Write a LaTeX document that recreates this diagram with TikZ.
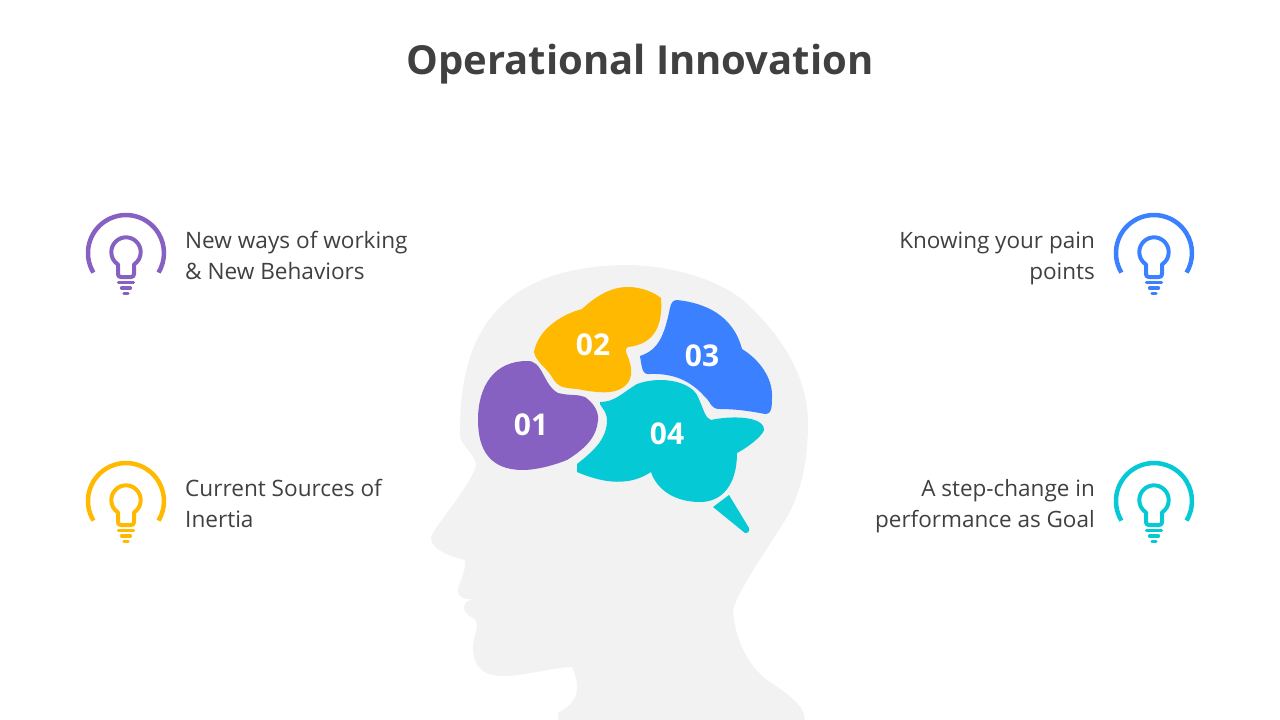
\documentclass[tikz,border=0pt]{standalone}
\usepackage{fontspec}
\setmainfont{Open Sans}
\usepackage{tikz}
\definecolor{Purple1}{HTML}{8761C1}
\definecolor{Yellow1}{HTML}{FFB900}
\definecolor{Blue1}{HTML}{3A80FF}
\definecolor{Teal1}{HTML}{06C9D6}
\definecolor{Head1}{HTML}{F2F2F2}
\definecolor{Text1}{HTML}{404040}
\tikzstyle{title} = [text=Text1, font=\fontsize{40}{48}\selectfont\bfseries]
\tikzstyle{labelleft} = [text=Text1, anchor=west, align=left, inner sep=0pt, font=\fontsize{22.6}{31}\selectfont]
\tikzstyle{labelright} = [text=Text1, anchor=east, align=right, inner sep=0pt, font=\fontsize{22.5}{31}\selectfont]
\tikzstyle{number} = [text=white, font=\fontsize{30}{36}\selectfont\bfseries]
\tikzstyle{bulbarc} = [line width=4.5pt, line cap=butt]
\tikzstyle{bulbline} = [line width=4pt, line cap=butt]
\tikzstyle{bulbbar} = [line width=3.2pt, line cap=round]
\newcommand{\bulbicon}[3]{
\begin{scope}[shift={(#1,#2)}, draw=#3]
\draw [bulbarc] (-32.6,19.6) arc [start angle=149, end angle=391, radius=38];
\draw [bulbline, line join=round] (-8,11.5) .. controls (-12.5,8.5) and (-14.7,4) .. (-14.7,-1) .. controls (-14.7,-9) and (-8,-15.7) .. (0,-15.7) .. controls (8,-15.7) and (14.7,-9) .. (14.7,-1) .. controls (14.7,4) and (12.5,8.5) .. (8,11.5) -- (8,21) .. controls (8,23) and (7,24) .. (5,24) -- (-5,24) .. controls (-7,24) and (-8,23) .. (-8,21) -- cycle;
\draw [bulbbar] (-7.5,29.5) -- (7.5,29.5);
\draw [bulbbar] (-4.5,35) -- (4.5,35);
\draw [bulbbar] (-2,40.7) -- (2,40.7);
\end{scope}
}

\begin{document}
\begin{tikzpicture}[x=1pt, y=-1pt]

\useasboundingbox (0,0) rectangle (1280,720);

% head
\fill [Head1] (630,265) .. controls (670,266) and (715,278) .. (743,300) .. controls (785,338) and (808,380) .. (808,423) .. controls (808,460) and (802,490) .. (787,517) .. controls (770,545) and (738,590) .. (733,610) .. controls (735,640) and (748,665) .. (767,680) .. controls (785,692) and (805,705) .. (805,720) -- (558,720) -- (558,713) .. controls (572,706) and (577,697) .. (577,687) .. controls (577,680) and (575,674) .. (572,667) .. controls (555,667) and (525,676) .. (503,676) .. controls (480,676) and (473,664) .. (473,647) .. controls (473,638) and (477,632) .. (477,625) .. controls (477,615) and (464,618) .. (464,607) .. controls (464,602) and (470,600) .. (474,599) .. controls (464,600) and (458,597) .. (458,590) .. controls (458,584) and (466,574) .. (465,560) .. controls (452,557) and (431,550) .. (431,538) .. controls (431,530) and (472,485) .. (476,465) .. controls (476,455) and (460,445) .. (460,435) .. controls (460,370) and (470,265) .. (630,265) -- cycle;

% lobes
\fill [Purple1] (527,361) .. controls (543,360) and (543,385) .. (558,393) .. controls (570,396) and (578,394) .. (585,397) .. controls (592,402) and (599,410) .. (598,420) .. controls (597,435) and (588,447) .. (567,460) .. controls (552,466) and (535,470) .. (523,470) .. controls (490,470) and (478,450) .. (478,420) .. controls (478,385) and (495,361) .. (527,361) -- cycle;
\fill [Yellow1] (628,287) .. controls (642,287) and (655,293) .. (661,298) .. controls (663,325) and (655,344) .. (628,347) .. controls (624,349) and (626,352) .. (628,357) .. controls (632,368) and (633,376) .. (627,384) .. controls (618,394) and (603,394) .. (577,389) .. controls (565,388) and (558,388) .. (552,377) .. controls (545,366) and (536,362) .. (534,352) .. controls (538,330) and (560,315) .. (582,309) .. controls (595,297) and (610,287) .. (628,287) -- cycle;
\fill [Blue1] (677,300) .. controls (705,303) and (733,315) .. (742,349) .. controls (760,360) and (772,378) .. (772,395) .. controls (772,407) and (772,414) .. (765,414) .. controls (750,411) and (735,409) .. (720,409) .. controls (710,409) and (712,403) .. (705,397) .. controls (692,382) and (675,373) .. (650,374) .. controls (642,375) and (642,368) .. (640,356) .. controls (658,350) and (664,337) .. (670,308) .. controls (671,303) and (673,300) .. (677,300) -- cycle;
\fill [Teal1] (600,402) .. controls (615,402) and (622,393) .. (637,384) .. controls (662,375) and (692,382) .. (698,397) .. controls (704,410) and (705,418) .. (711,420) .. controls (728,416) and (764,415) .. (764,430) .. controls (762,437) and (745,449) .. (737,453) .. controls (737,485) and (722,502) .. (700,502) .. controls (675,502) and (657,490) .. (651,472) .. controls (630,486) and (605,484) .. (577,472) -- (577,464) .. controls (595,450) and (607,438) .. (607,420) .. controls (607,410) and (598,405) .. (600,402) -- cycle;
\fill [Teal1] (713,507) -- (729,495) -- (749,528) .. controls (750,532) and (747,534) .. (745,533) -- cycle;

\node (title) [title] at (640,64) {Operational Innovation};

\node (num1) [number] at (531,425) {01};
\node (num2) [number] at (593,345) {02};
\node (num3) [number] at (702,356) {03};
\node (num4) [number] at (667,434) {04};

% icons
\bulbicon{126}{253}{Purple1}
\bulbicon{126}{501}{Yellow1}
\bulbicon{1154}{253}{Blue1}
\bulbicon{1154}{501}{Teal1}

\node (text1) [labelleft] at (185,255) {New ways of working\\\& New Behaviors};
\node (text2) [labelleft] at (185,503) {Current Sources of\\Inertia};
\node (text3) [labelright] at (1095,258) {Knowing your pain\\points};
\node (text4) [labelright] at (1095,506) {A step-change in\\performance as Goal};

\end{tikzpicture}
\end{document}
